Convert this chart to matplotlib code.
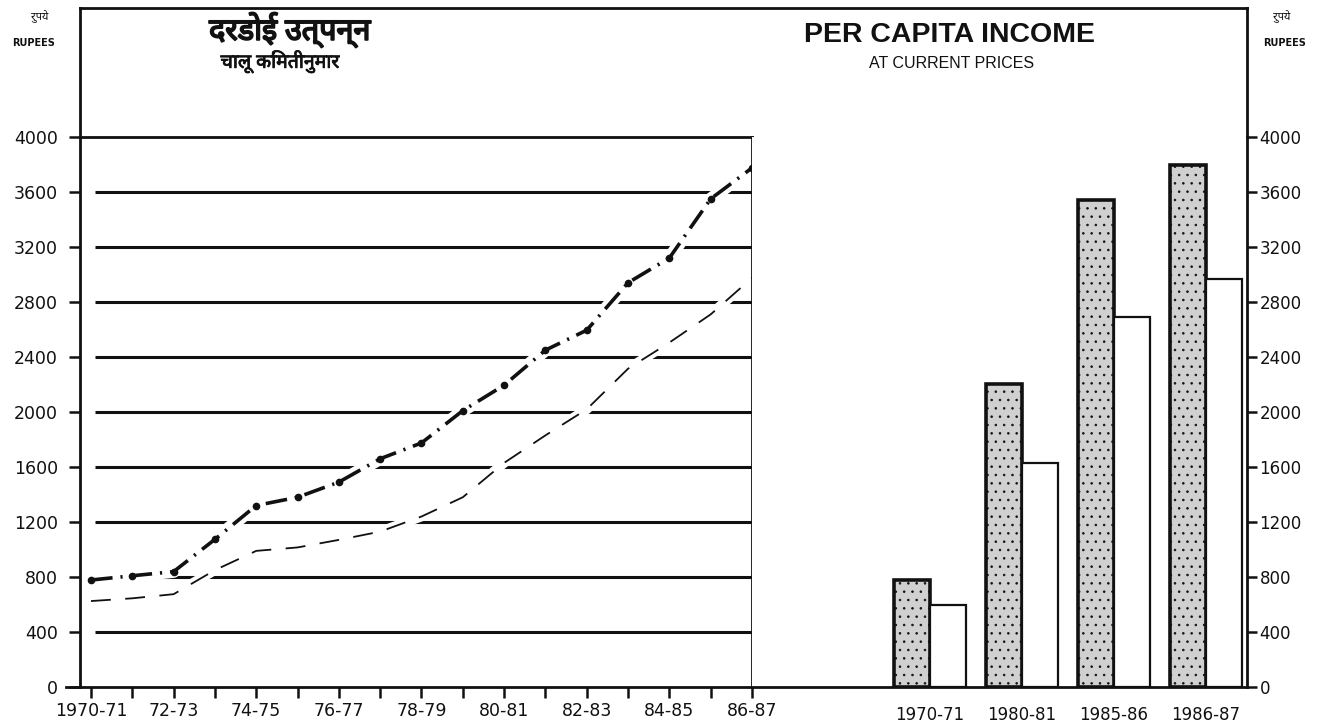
import numpy as np
import matplotlib
matplotlib.use("Agg")
import matplotlib.pyplot as plt
import matplotlib.patheffects as pe
from matplotlib import font_manager, ft2font
from matplotlib.lines import Line2D

# data
years = ['1970-71', '71-72', '72-73', '73-74', '74-75', '75-76', '76-77', '77-78',
         '78-79', '79-80', '80-81', '81-82', '82-83', '83-84', '84-85', '85-86', '86-87']
year_labels = ['1970-71', '', '72-73', '', '74-75', '', '76-77', '', '78-79', '',
               '80-81', '', '82-83', '', '84-85', '', '86-87']
state_income = [778, 809, 839, 1074, 1320, 1380, 1490, 1660, 1775, 2010,
                2195, 2450, 2595, 2940, 3120, 3550, 3775]
india_income = [625, 645, 675, 850, 990, 1015, 1070, 1130, 1240, 1380,
                1630, 1830, 2020, 2315, 2505, 2710, 2975]

bar_years = ['1970-71', '1980-81', '1985-86', '1986-87']
bar_state = [780, 2205, 3540, 3795]
bar_india = [598, 1630, 2690, 2970]

y_ticks = list(range(0, 4001, 400))

# pick a font that has devanagari glyphs
deva = []
for f in font_manager.fontManager.ttflist:
    try:
        cm = ft2font.FT2Font(f.fname).get_charmap()
    except Exception:
        continue
    if 0x0926 in cm and f.name not in deva:
        deva.append(f.name)
prefer = ['Noto Sans Devanagari', 'Hind', 'Mukta', 'Poppins', 'Lohit Devanagari',
          'Anek Devanagari', 'Amiko', 'FreeSans']
pick = [n for n in prefer if n in deva]
if not pick:
    pick = [n for n in deva if 'Unifont' not in n]
deva_family = pick[:1] + ['DejaVu Sans']

W, H = 1319, 728
fig = plt.figure(figsize=(W / 100, H / 100), dpi=100)


def fx(px):
    return px / W


def fy(py):
    return 1 - py / H


ink = '#111111'
heavy = [pe.withStroke(linewidth=1.3, foreground=ink)]

# ---- left: line chart
ax1 = fig.add_axes([fx(80), fy(687), fx(752) - fx(80), fy(137) - fy(687)])
x = np.arange(len(years))
ax1.set_xlim(-0.266, 16)
ax1.set_ylim(0, 4000)
ax1.hlines(y_ticks[1:-1], 0.1, 16, color=ink, lw=2.2, zorder=1)

# white halo so the grid breaks where the curves cross it
ax1.plot(x, state_income, color='white', lw=9, zorder=2, solid_capstyle='butt')
ax1.plot(x, india_income, color='white', lw=7, zorder=2, solid_capstyle='butt')
ax1.plot(x, state_income, color=ink, lw=2.6, ls=(0, (6, 2.2, 0.6, 2.2)), zorder=3)
ax1.plot(x, state_income, 'o', color=ink, ms=4.5, zorder=4)
ax1.plot(x, india_income, color=ink, lw=1.3, ls=(0, (11, 8)), zorder=3)

for s in ax1.spines.values():
    s.set_linewidth(2)
    s.set_color(ink)
ax1.set_yticks(y_ticks)
ax1.set_yticklabels([str(v) for v in y_ticks])
ax1.set_xticks(x)
ax1.set_xticklabels(year_labels)
ax1.tick_params(axis='both', direction='out', length=8, width=1.8, labelsize=12.5,
                colors=ink)
ax1.tick_params(axis='x', pad=3)
ax1.tick_params(axis='y', pad=8)

# ---- right: bars
ax2 = fig.add_axes([fx(752), fy(687), fx(1247) - fx(752), fy(137) - fy(687)])
bx = np.arange(len(bar_years))
bw = 0.39
ax2.set_xlim(-1.935, 3.446)
ax2.set_ylim(0, 4000)
plt.rcParams['hatch.linewidth'] = 0.6
plt.rcParams['hatch.color'] = '#555555'
ax2.bar(bx - bw / 2, bar_state, bw, color='#d0d0d0', edgecolor=ink, lw=2.6,
        hatch='..', zorder=2)
ax2.bar(bx + bw / 2, bar_india, bw, color='white', edgecolor=ink, lw=1.6, zorder=2)
ax2.spines['left'].set_visible(False)
ax2.spines['top'].set_visible(False)
for s in ('right', 'bottom'):
    ax2.spines[s].set_linewidth(2)
    ax2.spines[s].set_color(ink)
ax2.yaxis.tick_right()
ax2.set_yticks(y_ticks)
ax2.set_yticklabels([str(v) for v in y_ticks])
ax2.set_xticks(bx)
ax2.set_xticklabels(bar_years)
ax2.tick_params(axis='y', direction='out', length=7, width=1.8, labelsize=12,
                colors=ink, pad=2)
ax2.tick_params(axis='x', length=0, labelsize=12, colors=ink, pad=14)

# ---- outer frame
for xs, ys in [([80, 1247], [8, 8]), ([80, 80], [8, 137]), ([1247, 1247], [8, 137]),
               ([66, 80], [687, 687])]:
    fig.add_artist(Line2D([fx(v) for v in xs], [fy(v) for v in ys], color=ink, lw=2))

# ---- titles
fig.text(fx(290), fy(30), 'दरडोई उत्पन्न', family=deva_family, fontsize=22,
         fontweight='bold', ha='center', va='center', color=ink, path_effects=heavy)
fig.text(fx(280), fy(62), 'चालू किंमतीनुमार', family=deva_family, fontsize=14,
         ha='center', va='center', color=ink,
         path_effects=[pe.withStroke(linewidth=0.6, foreground=ink)])
fig.text(fx(950), fy(35), 'PER CAPITA INCOME', family='Liberation Sans', fontsize=20.5,
         fontweight='bold', ha='center', va='center', color=ink)
fig.text(fx(952), fy(64), 'AT CURRENT PRICES', family='Liberation Sans', fontsize=11.5,
         ha='center', va='center', color=ink)
fig.text(fx(40), fy(17), 'रुपये', family=deva_family, fontsize=8, fontweight='bold',
         ha='center', va='center', color=ink)
fig.text(fx(34), fy(43), 'RUPEES', fontsize=7, fontweight='bold', ha='center',
         va='center', color=ink)
fig.text(fx(1282), fy(17), 'रुपये', family=deva_family, fontsize=8, fontweight='bold',
         ha='center', va='center', color=ink)
fig.text(fx(1285), fy(43), 'RUPEES', fontsize=7, fontweight='bold', ha='center',
         va='center', color=ink)

fig.savefig('out.png', dpi=100)
